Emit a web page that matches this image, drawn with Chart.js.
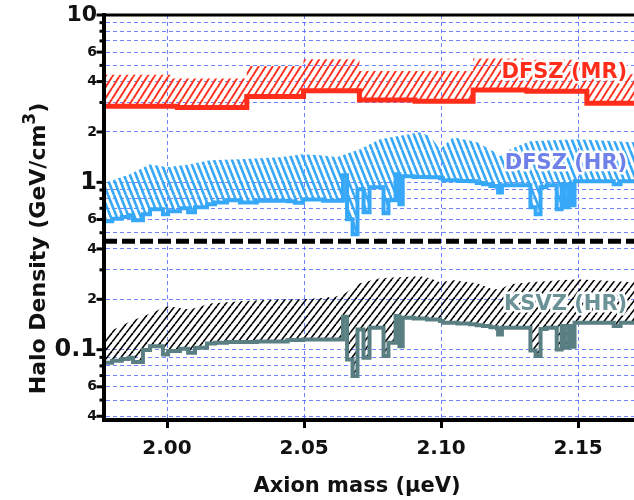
<!DOCTYPE html>
<html><head><meta charset="utf-8">
<script src="https://cdn.jsdelivr.net/npm/chart.js@4.4.0/dist/chart.umd.min.js"></script>
<style>html,body{margin:0;padding:0;background:#fff}#wrap{width:634px;height:500px}</style>
</head><body><div id="wrap"><canvas id="c" width="634" height="500"></canvas></div>
<script>
// ---- axis ranges and ticks ----
const massRange = [1.977, 2.1704];
const densityRange = [0.038, 10];
const xTickValues = [2.00, 2.05, 2.10, 2.15];
const yTickValues = [0.04,0.05,0.06,0.07,0.08,0.09,0.1,0.2,0.3,0.4,0.5,0.6,0.7,0.8,0.9,1,2,3,4,5,6,7,8,9,10];
const yTickLabels = ['4','','6','','','','0.1','2','','4','','6','','','','1','2','','4','','6','','','','10'];
const separatorDensity = 0.444;

// ---- DFSZ (MR): stepped lower limit and upper edge of hatched band ----
const mrLowMass = [1.9770, 2.0038, 2.0291, 2.0498, 2.0702, 2.0905, 2.1117, 2.1313, 2.1532, 2.1704];
const mrLowDensity = [2.85, 2.80, 3.26, 3.53, 3.10, 3.05, 3.56, 3.50, 2.97, 2.97];
const mrHighMass = [1.9770, 2.0015, 2.0291, 2.0498, 2.0702, 2.1117, 2.1313, 2.1532, 2.1704];
const mrHighDensity = [4.40, 4.17, 4.96, 5.44, 4.63, 5.50, 5.40, 4.42, 4.42];

// ---- HR scan: stepped lower limits ----
const hrMass = [1.9775,1.9800,1.9835,1.9860,1.9876,1.9912,1.9938,1.9985,2.0004,2.0047,2.0077,2.0102,2.0146,2.0175,2.0219,2.0266,2.0328,2.0440,2.0467,2.0496,2.0569,2.0642,2.0657,2.0677,2.0695,2.0717,2.0739,2.0790,2.0808,2.0834,2.0848,2.0860,2.0900,2.0949,2.0996,2.1007,2.1060,2.1106,2.1130,2.1153,2.1180,2.1204,2.1208,2.1222,2.1326,2.1345,2.1363,2.1385,2.1422,2.1440,2.1451,2.1466,2.1476,2.1487,2.1630,2.1655,2.1704];
const dfszHrLow = [0.585,0.605,0.620,0.635,0.593,0.644,0.690,0.644,0.671,0.699,0.662,0.709,0.739,0.759,0.781,0.759,0.775,0.770,0.754,0.791,0.775,1.101,0.601,0.489,0.908,0.662,0.934,0.653,0.781,1.116,0.739,1.086,1.078,1.071,1.057,1.028,1.020,1.014,0.990,0.973,0.950,0.934,0.871,0.960,0.709,0.644,0.934,0.960,0.690,0.973,0.709,0.973,0.729,1.014,0.973,1.014,1.014];
const ksvzHrLow = [0.0836,0.0860,0.0880,0.0896,0.0843,0.0995,0.1050,0.0937,0.0981,0.1014,0.0960,0.1028,0.1090,0.1100,0.1110,0.1110,0.1121,0.1141,0.1141,0.1152,0.1152,0.1575,0.0875,0.0695,0.1322,0.0896,0.1353,0.0916,0.1100,0.1588,0.1050,0.1553,0.1535,0.1517,0.1482,0.1450,0.1435,0.1420,0.1400,0.1384,0.1360,0.1340,0.1234,0.1353,0.0990,0.0916,0.1330,0.1353,0.1004,0.1384,0.1028,0.1384,0.1040,0.1450,0.1384,0.1450,0.1450];

// ---- HR scan: upper edges of hatched bands ----
const hrEnvMass = [1.9770,1.9792,1.9865,1.9938,2.0000,2.0084,2.0157,2.0266,2.0412,2.0496,2.0558,2.0620,2.0650,2.0704,2.0777,2.0923,2.0960,2.0996,2.1044,2.1131,2.1190,2.1215,2.1252,2.1325,2.1496,2.1704];
const dfszHrHigh = [0.986,1.018,1.116,1.281,1.229,1.281,1.353,1.372,1.410,1.470,1.451,1.410,1.470,1.575,1.807,1.990,1.883,1.575,1.858,1.735,1.532,1.430,1.575,1.759,1.807,1.735];
const ksvzHrHigh = [0.1234,0.1287,0.1476,0.1648,0.1815,0.1741,0.1891,0.1944,0.1999,0.1999,0.2026,0.2083,0.2171,0.2491,0.2669,0.2743,0.2669,0.2526,0.2596,0.2491,0.2293,0.2293,0.2457,0.2526,0.2632,0.2526];

// ---- series labels ----
const seriesLabels = [
  {text: 'DFSZ (MR)', mass: 2.1679, density: 4.50, color: '#ff2d1a'},
  {text: 'DFSZ (HR)', mass: 2.1679, density: 1.30, color: '#6f80e8'},
  {text: 'KSVZ (HR)', mass: 2.1679, density: 0.186, color: '#6b9297'}
];

const FONT = "'DejaVu Sans', sans-serif";
const RED = '#ff2d1a', BLUE = '#36a8f7', TEAL = '#5a7f82';
const GRID = 'rgba(75,100,255,0.8)';

const canvas = document.getElementById('c');
const mainCtx = canvas.getContext('2d');
function hatch(color, w, h, dir, lw) {
  const t = document.createElement('canvas'); t.width = w; t.height = h;
  const g = t.getContext('2d'); g.strokeStyle = color; g.lineWidth = lw;
  for (let k = -1; k <= 1; k++) {
    g.beginPath();
    if (dir === '/') { g.moveTo(k*w, h); g.lineTo(k*w + w, 0); }
    else { g.moveTo(k*w, 0); g.lineTo(k*w + w, h); }
    g.stroke();
  }
  return mainCtx.createPattern(t, 'repeat');
}
const pts = (xs, ys) => xs.map((x, i) => ({x, y: ys[i]}));
const labelOf = v => { const i = yTickValues.indexOf(v); return i >= 0 ? yTickLabels[i] : ''; };

const decor = {
  id: 'decor',
  afterDatasetsDraw(chart) {
    const {ctx, chartArea: a, scales: {x, y}} = chart;
    ctx.save();
    // series labels with white halo
    ctx.font = 'bold 21px ' + FONT; ctx.textAlign = 'right'; ctx.textBaseline = 'middle';
    ctx.lineJoin = 'round';
    seriesLabels.forEach(l => {
      const px = x.getPixelForValue(l.mass), py = y.getPixelForValue(l.density);
      ctx.strokeStyle = '#fff'; ctx.lineWidth = 5; ctx.strokeText(l.text, px, py);
      ctx.fillStyle = l.color; ctx.fillText(l.text, px, py);
    });
    // frame
    ctx.strokeStyle = '#000'; ctx.lineWidth = 4;
    ctx.beginPath(); ctx.moveTo(a.left, a.top - 1); ctx.lineTo(a.left, a.bottom + 2); ctx.stroke();
    ctx.beginPath(); ctx.moveTo(a.left - 2, a.bottom); ctx.lineTo(a.right, a.bottom); ctx.stroke();
    ctx.lineWidth = 3;
    ctx.beginPath(); ctx.moveTo(a.left, a.top); ctx.lineTo(a.right, a.top); ctx.stroke();
    // y tick marks
    y.ticks.forEach(t => {
      const p = y.getPixelForValue(t.value);
      const len = labelOf(t.value) ? 7.5 : 4.5;
      ctx.beginPath(); ctx.moveTo(a.left - len, p); ctx.lineTo(a.left, p); ctx.stroke();
    });
    // axis titles
    ctx.fillStyle = '#111'; ctx.textBaseline = 'alphabetic';
    ctx.font = 'bold 21px ' + FONT; ctx.textAlign = 'center';
    ctx.fillText('Axion mass (\u03bceV)', a.left + 253, a.bottom + 72);
    const main = 'Halo Density (GeV/cm', sup = '3', close = ')';
    ctx.font = 'bold 22px ' + FONT; const w1 = ctx.measureText(main).width, w3 = ctx.measureText(close).width;
    ctx.font = 'bold 17px ' + FONT; const w2 = ctx.measureText(sup).width;
    const total = w1 + w2 + w3;
    ctx.translate(a.left - 59, (a.top + a.bottom) / 2 + 31);
    ctx.rotate(-Math.PI / 2);
    ctx.textAlign = 'left';
    const s = -total / 2;
    ctx.font = 'bold 22px ' + FONT; ctx.fillText(main, s, 0);
    ctx.font = 'bold 17px ' + FONT; ctx.fillText(sup, s + w1, -10);
    ctx.font = 'bold 22px ' + FONT; ctx.fillText(close, s + w1 + w2, 0);
    ctx.restore();
  }
};

new Chart(mainCtx, {
  type: 'line',
  data: {
    datasets: [
      {data: pts(mrLowMass, mrLowDensity), borderColor: RED, borderWidth: 5, stepped: true, fill: false},
      {data: pts(mrHighMass, mrHighDensity), borderWidth: 0, borderColor: 'rgba(0,0,0,0)', stepped: true, fill: '-1', backgroundColor: hatch(RED, 7, 11, '/', 2)},
      {data: pts(hrMass, dfszHrLow), borderColor: BLUE, borderWidth: 4, stepped: true, fill: false},
      {data: pts(hrEnvMass, dfszHrHigh), borderWidth: 0, borderColor: 'rgba(0,0,0,0)', fill: '-1', backgroundColor: hatch(BLUE, 6, 15, '\\', 2.6)},
      {data: pts(hrMass, ksvzHrLow), borderColor: TEAL, borderWidth: 4, stepped: true, fill: false},
      {data: pts(hrEnvMass, ksvzHrHigh), borderWidth: 0, borderColor: 'rgba(0,0,0,0)', fill: '-1', backgroundColor: hatch('#000', 7, 9, '/', 1.6)},
      {data: pts(massRange, [separatorDensity, separatorDensity]), borderColor: '#000', borderWidth: 5, borderDash: [13, 5], fill: false}
    ]
  },
  options: {
    responsive: false, animation: false, events: [],
    layout: {padding: {top: 15, right: 0, left: 0, bottom: 0}},
    elements: {point: {radius: 0}, line: {tension: 0, borderCapStyle: 'butt'}},
    plugins: {legend: {display: false}, tooltip: {enabled: false}},
    scales: {
      x: {
        type: 'linear', min: massRange[0], max: massRange[1],
        afterBuildTicks: s => { s.ticks = xTickValues.map(v => ({value: v})); },
        afterFit: s => { s.height = 80; s.paddingLeft = 0; s.paddingRight = 0; },
        ticks: {callback: v => Number(v).toFixed(2), font: {family: FONT, size: 20, weight: 'bold'}, color: '#111', padding: 9, maxRotation: 0, autoSkip: false},
        grid: {color: GRID, lineWidth: 1, tickColor: '#000', tickWidth: 3, tickLength: 8},
        border: {display: true, color: '#000', width: 4, dash: [4, 3]}
      },
      y: {
        type: 'logarithmic', min: densityRange[0], max: densityRange[1],
        afterBuildTicks: s => { s.ticks = yTickValues.map(v => ({value: v})); },
        afterFit: s => { s.width = 104; s.paddingTop = 0; s.paddingBottom = 0; },
        ticks: {
          callback: v => labelOf(v), color: '#111', padding: 7, autoSkip: false,
          font: c => {
            const v = c.tick ? c.tick.value : 0;
            if (v === 10) return {family: FONT, size: 22, weight: 'bold'};
            if (v === 1 || v === 0.1) return {family: FONT, size: 24, weight: 'bold'};
            return {family: FONT, size: 14, weight: 'bold'};
          }
        },
        grid: {color: GRID, lineWidth: 1, drawTicks: false},
        border: {display: true, color: '#000', width: 4, dash: [4, 3]}
      }
    }
  },
  plugins: [decor]
});
</script></body></html>
